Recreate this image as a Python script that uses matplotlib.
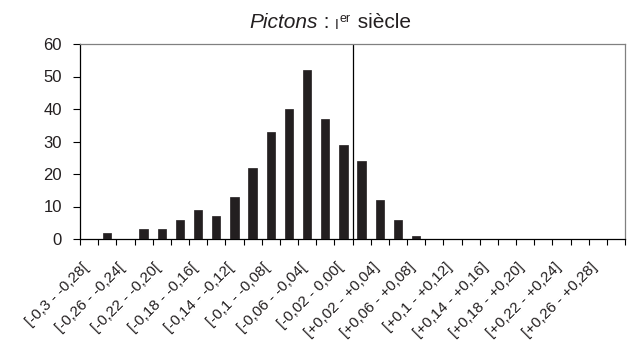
import numpy as np
import matplotlib
matplotlib.use("Agg")
import matplotlib.pyplot as plt

plt.rcParams['font.family'] = ['Liberation Sans', 'DejaVu Sans']

# 30 classes of 0.02 from -0.30 to +0.30
counts = [0, 2, 0, 3, 3, 6, 9, 7, 13, 22, 33, 40, 52, 37, 29,
          24, 12, 6, 1, 0, 0, 0, 0, 0, 0, 0, 0, 0, 0, 0]
labels = ["[-0,3 - -0,28[", "[-0,26 - -0,24[", "[-0,22 - -0,20[", "[-0,18 - -0,16[",
          "[-0,14 - -0,12[", "[-0,1 - -0,08[", "[-0,06 - -0,04[", "[-0,02 - 0,00[",
          "[+0,02 - +0,04]", "[+0,06 - +0,08]", "[+0,1 - +0,12]", "[+0,14 - +0,16]",
          "[+0,18 - +0,20]", "[+0,22 - +0,24]", "[+0,26 - +0,28]"]
yticks = [0, 10, 20, 30, 40, 50, 60]

fig = plt.figure(figsize=(6.33, 3.61), dpi=100)
ax = fig.add_axes([80/633, 1 - 239/361, 545/633, 195/361])

x = np.arange(len(counts))
ax.bar(x, counts, width=0.45, color="#231f20", edgecolor="#231f20", linewidth=0.5, zorder=3)
ax.axvline(14.5, color="black", linewidth=0.9, zorder=2)

ax.set_xlim(-0.5, len(counts) - 0.5)
ax.set_ylim(0, 60)
ax.set_yticks(yticks)
ax.set_yticklabels([str(v) for v in yticks], fontsize=12, color="#231f20")

ax.set_xticks(np.arange(len(counts) + 1) - 0.5)
ax.set_xticklabels([])
ax.tick_params(axis="x", direction="out", length=4, width=0.8, color="black")
ax.tick_params(axis="y", direction="out", length=5, width=0.8, color="black", pad=8)

for i, lab in enumerate(labels):
    ax.annotate(lab, xy=(2 * i, 0), xycoords=("data", "axes fraction"),
                xytext=(-2, -19), textcoords="offset points",
                rotation=45, ha="right", va="center", rotation_mode="anchor",
                fontsize=11, color="#231f20")

ax.spines["left"].set_color("black")
ax.spines["bottom"].set_color("black")
ax.spines["top"].set_color("#808080")
ax.spines["right"].set_color("#808080")
for s in ax.spines.values():
    s.set_linewidth(0.9)

# title built from pieces: Pictons (italic) : Ier siècle
t1 = fig.text(249/633, 1 - 28/361, "Pictons", fontsize=15, style="italic", va="baseline",
              color="#231f20")
t2 = ax.annotate(" : ", xy=(1, 0), xycoords=t1, va="bottom", fontsize=15, color="#231f20")
t3 = ax.annotate("I", xy=(1, 0), xycoords=t2, va="bottom", fontsize=10, color="#231f20")
t4 = ax.annotate("er", xy=(1, 0), xycoords=t3, xytext=(0.5, 5), textcoords="offset points",
                 va="bottom", fontsize=9, color="#231f20")
t5 = ax.annotate(" siècle", xy=(1, 0), xycoords=t3, xytext=(9.5, 0), textcoords="offset points",
                 va="bottom", fontsize=15, color="#231f20")

fig.savefig("out.png", dpi=100)
